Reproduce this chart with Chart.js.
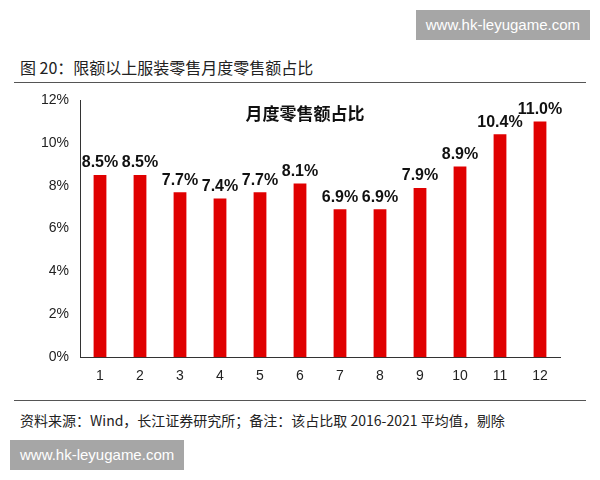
<!DOCTYPE html>
<html><head><meta charset="utf-8">
<script src="https://cdn.jsdelivr.net/npm/chart.js@4/dist/chart.umd.min.js"></script>
<style>
body{margin:0;width:600px;height:480px;background:#fff;font-family:"Noto Sans CJK SC","Noto Sans",sans-serif;position:relative;overflow:hidden}
.wm{position:absolute;background:#a6a6a6;color:#fff;font-size:15px;font-family:"Liberation Sans",sans-serif;padding:0 10px;line-height:30px}
#title{position:absolute;left:20px;top:55px;font-size:16px;color:#222}
.ln{position:absolute;left:14px;width:572px;border-top:1.5px solid #555}
#src{position:absolute;left:20px;top:410px;font-size:14px;color:#222;white-space:nowrap}
#wrap{position:absolute;left:20px;top:88px;width:560px;height:300px}
</style></head><body>
<div class="wm" style="right:10px;top:10px">www.hk-leyugame.com</div>
<div id="title">图 20：限额以上服装零售月度零售额占比</div>
<div class="ln" style="top:82px"></div>
<div id="wrap"><canvas id="c"></canvas></div>
<div class="ln" style="top:400px"></div>
<div id="src">资料来源：Wind，长江证券研究所；备注：该占比取 2016-2021 平均值，剔除</div>
<div class="wm" style="left:10px;top:440px">www.hk-leyugame.com</div>
<script>
const months=["1","2","3","4","5","6","7","8","9","10","11","12"];
const shares=[8.5,8.5,7.7,7.4,7.7,8.1,6.9,6.9,7.9,8.9,10.4,11.0];
const chartTitle="月度零售额占比";
const labelPlugin={id:"lbl",afterDatasetsDraw(ch){const c=ch.ctx;const m=ch.getDatasetMeta(0);c.save();c.font="bold 16px 'Liberation Sans',sans-serif";c.fillStyle="#111";c.textAlign="center";c.textBaseline="bottom";m.data.forEach((b,i)=>c.fillText(shares[i].toFixed(1)+"%",b.x,b.y-4));
c.font="bold 17px 'Noto Sans CJK SC'";c.fillText(chartTitle,(ch.chartArea.left+ch.chartArea.right)/2-15,ch.chartArea.top+22);c.restore();}};
new Chart(document.getElementById("c"),{type:"bar",data:{labels:months,datasets:[{data:shares,backgroundColor:"#e00000",categoryPercentage:0.8,barPercentage:0.4}]},
options:{responsive:true,maintainAspectRatio:false,animation:false,layout:{padding:{top:12,right:20,bottom:0}},
plugins:{legend:{display:false},tooltip:{enabled:false}},
scales:{x:{grid:{display:false},border:{color:"#333"},ticks:{color:"#222",font:{size:14,family:"Liberation Sans"}}},
y:{min:0,max:12,afterFit:s=>{s.width=60},grid:{display:false,drawTicks:true},border:{color:"#333"},ticks:{stepSize:2,color:"#222",font:{size:14,family:"Liberation Sans"},callback:v=>v+"%"}}}},
plugins:[labelPlugin]});
</script></body></html>
